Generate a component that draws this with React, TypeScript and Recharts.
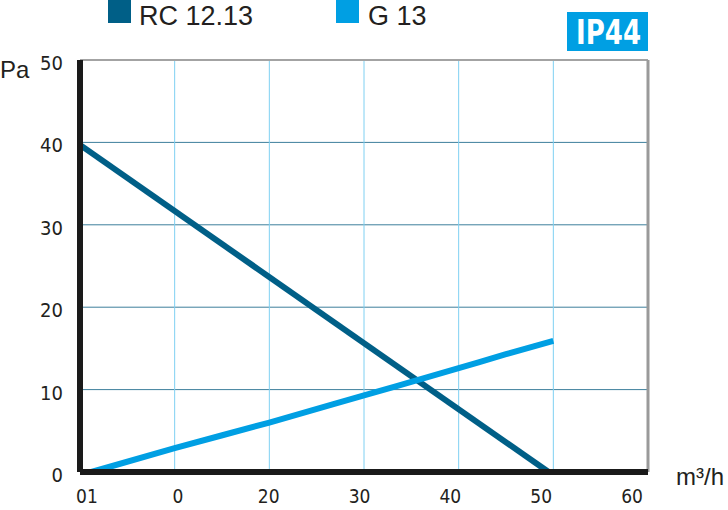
import React from 'react';
import { LineChart, Line, XAxis, YAxis, CartesianGrid, ReferenceLine } from 'recharts';

const rcFlow = [0, 49.5];
const rcPressure = [39.7, 0];
const gFlow = [1.2, 10, 20, 30, 40, 45, 50];
const gPressure = [0, 2.9, 6.0, 9.3, 12.6, 14.3, 15.9];
const xTicks = [0, 10, 20, 30, 40, 50, 60];
const xTickLabels = ['01', '0', '20', '30', '40', '50', '60'];
const yTicks = [0, 10, 20, 30, 40, 50];
const seriesNames = ['RC 12.13', 'G 13'];
const badgeText = 'IP44';
const yUnit = 'Pa';
const xUnit = 'm³/h';

const DARK = '#005f87';
const LIGHT = '#009fe3';
const NARROW = '"Liberation Sans Narrow", "DejaVu Sans Condensed", sans-serif';
const SANS = '"Liberation Sans", Arial, sans-serif';

const rcData = rcFlow.map((q, i) => ({ q, p: rcPressure[i] }));
const gData = gFlow.map((q, i) => ({ q, p: gPressure[i] }));

const YTick = (props: any) => {
  const { x, y, payload } = props;
  return (
    <text x={x} y={y + 3} textAnchor="end" dominantBaseline="central" fontFamily={NARROW} fontSize={20} fill="#231f20">
      {payload.value}
    </text>
  );
};

const XTick = (props: any) => {
  const { x, y, payload, index } = props;
  const i = xTicks.indexOf(payload.value);
  return (
    <text x={x} y={y} dy="0.71em" textAnchor="middle" fontFamily={NARROW} fontSize={19} fill="#231f20">
      {xTickLabels[i >= 0 ? i : index]}
    </text>
  );
};

export default function App() {
  return (
    <div style={{ position: 'absolute', left: 0, top: 0, width: 728, height: 510, background: '#fff' }}>
      <LineChart width={728} height={510} margin={{ top: 60, right: 80, bottom: 0, left: 0 }}>
        <CartesianGrid horizontal={true} vertical={false} stroke="#3d7f9c" strokeWidth={1} />
        <CartesianGrid horizontal={false} vertical={true} stroke="#7fd0f2" strokeWidth={1} />
        <XAxis
          xAxisId={0}
          dataKey="q"
          type="number"
          domain={[0, 60]}
          ticks={xTicks}
          height={0}
          hide
          allowDataOverflow
        />
        <XAxis
          xAxisId="lbl"
          dataKey="q"
          type="number"
          domain={[-0.77, 61.76]}
          ticks={xTicks}
          tick={<XTick />}
          tickLine={false}
          tickSize={0}
          tickMargin={18}
          height={38}
          axisLine={{ stroke: '#1a1a1a', strokeWidth: 6 }}
          allowDataOverflow
        />
        <YAxis
          type="number"
          domain={[0, 50]}
          ticks={yTicks}
          tick={<YTick />}
          tickLine={false}
          tickSize={0}
          tickMargin={17}
          width={80}
          axisLine={{ stroke: '#1a1a1a', strokeWidth: 6 }}
        />
        <ReferenceLine y={50} stroke="#a3a3a3" strokeWidth={2} />
        <ReferenceLine x={60} stroke="#9a9a9a" strokeWidth={3} />
        <Line data={rcData} dataKey="p" type="linear" stroke={DARK} strokeWidth={6} dot={false} isAnimationActive={false} name={seriesNames[0]} />
        <Line data={gData} dataKey="p" type="monotone" stroke={LIGHT} strokeWidth={6} dot={false} isAnimationActive={false} name={seriesNames[1]} />
      </LineChart>
      <svg width={728} height={510} style={{ position: 'absolute', left: 0, top: 0, pointerEvents: 'none' }}>
        <rect x={108} y={0} width={23} height={23} fill={DARK} />
        <text x={139} y={25} fontFamily={SANS} fontSize={27} fill="#231f20">{seriesNames[0]}</text>
        <rect x={336} y={0} width={23} height={23} fill={LIGHT} />
        <text x={368} y={25} fontFamily={SANS} fontSize={27} fill="#231f20">{seriesNames[1]}</text>
        <rect x={567} y={12} width={81} height={39} fill={LIGHT} />
        <text x={576} y={44} textLength={65} lengthAdjust="spacingAndGlyphs" fontFamily={NARROW} fontWeight="bold" fontSize={34} fill="#fff">{badgeText}</text>
        <text x={0} y={78} fontFamily={SANS} fontSize={24} fill="#231f20">{yUnit}</text>
        <text x={676} y={485} fontFamily={SANS} fontSize={24} fill="#231f20">{xUnit}</text>
      </svg>
    </div>
  );
}
